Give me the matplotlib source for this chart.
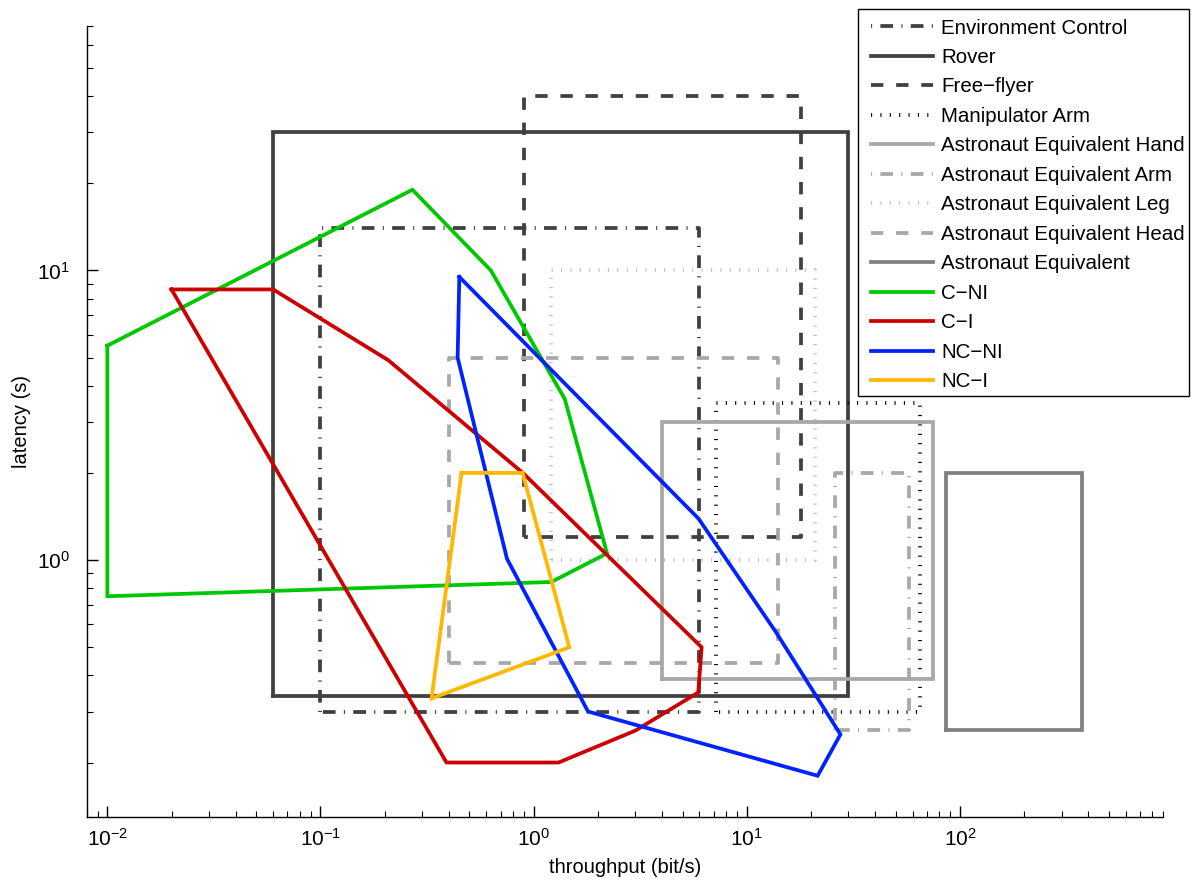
import matplotlib
matplotlib.use('Agg')
import matplotlib.pyplot as plt
from matplotlib.ticker import LogLocator, NullFormatter
from matplotlib.patches import Rectangle

plt.rcParams['font.family'] = ['Liberation Sans', 'DejaVu Sans']
plt.rcParams['mathtext.fontset'] = 'custom'
plt.rcParams['mathtext.rm'] = 'Liberation Sans'
plt.rcParams['mathtext.it'] = 'Liberation Sans:italic'
plt.rcParams['mathtext.bf'] = 'Liberation Sans:bold'

# ---------------- data ----------------
labels = ['Environment Control', 'Rover', 'Free\u2212flyer', 'Manipulator Arm',
          'Astronaut Equivalent Hand', 'Astronaut Equivalent Arm',
          'Astronaut Equivalent Leg', 'Astronaut Equivalent Head',
          'Astronaut Equivalent', 'C\u2212NI', 'C\u2212I', 'NC\u2212NI', 'NC\u2212I']

# rectangles: [throughput min, max], [latency min, max]
env_x = [0.10, 6.0];    env_y = [0.30, 14.0]
rover_x = [0.06, 30.0]; rover_y = [0.34, 30.0]
ff_x = [0.90, 18.0];    ff_y = [1.2, 40.0]
manip_x = [7.2, 65.0];  manip_y = [0.30, 3.5]
hand_x = [4.0, 75.0];   hand_y = [0.39, 3.0]
arm_x = [26.0, 58.0];   arm_y = [0.26, 2.0]
leg_x = [1.2, 21.0];    leg_y = [1.0, 10.0]
head_x = [0.40, 14.0];  head_y = [0.44, 5.0]
astro_x = [86.0, 375.0]; astro_y = [0.26, 2.0]

# polygons
cni_x = [0.01, 0.27, 0.63, 1.40, 2.21, 1.21, 0.01]
cni_y = [5.5, 19.0, 10.0, 3.6, 1.055, 0.84, 0.75]
ci_x = [0.020, 0.060, 0.208, 0.89, 6.14, 5.92, 3.01, 1.31, 0.39]
ci_y = [8.6, 8.6, 4.9, 2.0, 0.50, 0.349, 0.258, 0.20, 0.20]
ncni_x = [0.448, 0.44, 0.75, 1.80, 21.5, 27.5, 13.7, 5.94]
ncni_y = [9.5, 5.0, 1.01, 0.30, 0.18, 0.25, 0.564, 1.39]
nci_x = [0.459, 0.888, 1.47, 0.332]
nci_y = [2.0, 2.0, 0.5, 0.333]

# ---------------- styles ----------------
dark = '#404040'
light = '#a8a8a8'
lighter = '#c0c0c0'
mid = '#808080'
LW = 2.7
dashdot = (0, (0.3, 2.2, 3.4, 2.2))
dashed = (0, (3.3, 3.4))
dotted = (0, (0.3, 2.2))

rects = [
    (env_x, env_y, dark, dashdot),
    (rover_x, rover_y, dark, '-'),
    (ff_x, ff_y, dark, dashed),
    (manip_x, manip_y, 'black', dotted),
    (hand_x, hand_y, light, '-'),
    (arm_x, arm_y, light, dashdot),
    (leg_x, leg_y, lighter, dotted),
    (head_x, head_y, light, dashed),
    (astro_x, astro_y, mid, '-'),
]
polys = [
    (cni_x, cni_y, '#00c800'),
    (ci_x, ci_y, '#cc0000'),
    (ncni_x, ncni_y, '#0022ff'),
    (nci_x, nci_y, '#ffb800'),
]

W, H = 1194, 881
fig = plt.figure(figsize=(W / 100, H / 100), dpi=100)
ax = fig.add_axes([0.0726, 0.0730, 0.9017, 0.8978])
ax.set_xscale('log')
ax.set_yscale('log')

handles = []
for (xr, yr, c, ls) in rects:
    xs = [xr[0], xr[0], xr[1], xr[1], xr[0]]
    ys = [yr[0], yr[1], yr[1], yr[0], yr[0]]
    h, = ax.plot(xs, ys, color=c, linestyle=ls, linewidth=LW,
                 dash_capstyle='butt', solid_joinstyle='miter')
    handles.append(h)
for (px, py, c) in polys:
    xs = list(px) + [px[0]]
    ys = list(py) + [py[0]]
    h, = ax.plot(xs, ys, color=c, linewidth=LW, solid_joinstyle='miter')
    handles.append(h)

ax.set_xlim(0.008, 900)
ax.set_ylim(0.13, 70)

for s in ['top', 'right']:
    ax.spines[s].set_visible(False)
for s in ['left', 'bottom']:
    ax.spines[s].set_linewidth(1.0)
ax.tick_params(which='both', direction='in', top=False, right=False, labelsize=15)
ax.tick_params(which='major', length=7.7, width=1.0)
ax.tick_params(which='minor', length=4.2, width=0.8)
ax.tick_params(axis='x', which='major', pad=8)
ax.tick_params(axis='y', which='major', pad=12)
ax.xaxis.set_major_locator(LogLocator(base=10, numticks=20))
ax.xaxis.set_minor_locator(LogLocator(base=10, subs=range(2, 10), numticks=20))
ax.xaxis.set_minor_formatter(NullFormatter())
ax.yaxis.set_minor_formatter(NullFormatter())

ax.set_xlabel('throughput (bit/s)', fontsize=14.5, labelpad=6)
ax.set_ylabel('latency (s)', fontsize=14.5, labelpad=4)

# legend frame (drawn as a figure patch so its padding matches the original)
frame = Rectangle((858 / W, 1 - 396 / H), (1189 - 858) / W, (396 - 9) / H,
                  transform=fig.transFigure, facecolor='white',
                  edgecolor='black', linewidth=1.0, zorder=4)
fig.patches.append(frame)

leg = fig.legend(handles, labels, loc='upper left',
                 bbox_to_anchor=(871 / W, 1 - 18.5 / H),
                 bbox_transform=fig.transFigure, borderaxespad=0,
                 fontsize=14.8, handlelength=3.02, handletextpad=0.38,
                 labelspacing=0.51, borderpad=0.0, frameon=False)
leg.set_zorder(5)

fig.savefig('out.png', dpi=100)
